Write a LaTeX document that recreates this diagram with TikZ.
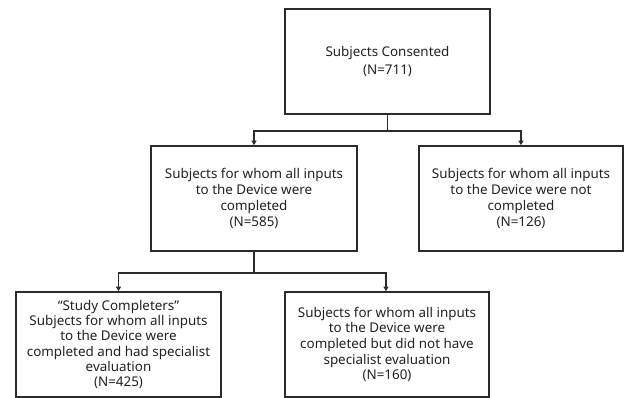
\documentclass[tikz,border=0pt]{standalone}
\usepackage{fontspec}
\setmainfont{Noto Sans}
\usetikzlibrary{arrows.meta}
\definecolor{ln}{HTML}{2B2B2B}
\definecolor{tx}{HTML}{222222}
\begin{document}
\begin{tikzpicture}[x=1pt,y=-1pt,
  box/.style={draw=ln,line width=1.6pt,align=center,inner sep=0pt,text=tx},
  conn/.style={draw=ln,line width=1.6pt},
  arr/.style={conn,-{Triangle[length=4.5pt,width=5pt]}}]
\useasboundingbox (0,0) rectangle (624,398);
\node[box,minimum width=205pt,minimum height=105pt,font=\fontsize{13.4}{17.5}\selectfont] (top) at (387.5,61.5) {Subjects Consented\\(N=711)};
\node[box,minimum width=206pt,minimum height=105pt,font=\fontsize{13.4}{16.2}\selectfont] (ml) at (254,198.5) {Subjects for whom all inputs\\to the Device were\\completed\\(N=585)};
\node[box,minimum width=204pt,minimum height=105pt,font=\fontsize{13.4}{16.2}\selectfont] (mr) at (521,198.5) {Subjects for whom all inputs\\to the Device were not\\completed\\(N=126)};
\node[box,minimum width=205pt,minimum height=105pt,font=\fontsize{13.4}{15.2}\selectfont] (bl) at (118.5,344.5) {``Study Completers''\\Subjects for whom all inputs\\to the Device were\\completed and had specialist\\evaluation\\(N=425)};
\node[box,minimum width=204pt,minimum height=105pt,font=\fontsize{13.4}{15.6}\selectfont] (bm) at (387,344.5) {Subjects for whom all inputs\\to the Device were\\completed but did not have\\specialist evaluation\\(N=160)};
\coordinate (j1) at (387.5,131);
\coordinate (j2) at (254,273);
\draw[conn] (top.south) -- (j1);
\draw[arr] (j1) -| (ml.north);
\draw[arr] (j1) -| (mr.north);
\draw[conn] (ml.south) -- (j2);
\draw[arr] (j2) -| (bl.north);
\draw[arr] (j2) -| ([xshift=-1pt]bm.north);
\end{tikzpicture}
\end{document}
